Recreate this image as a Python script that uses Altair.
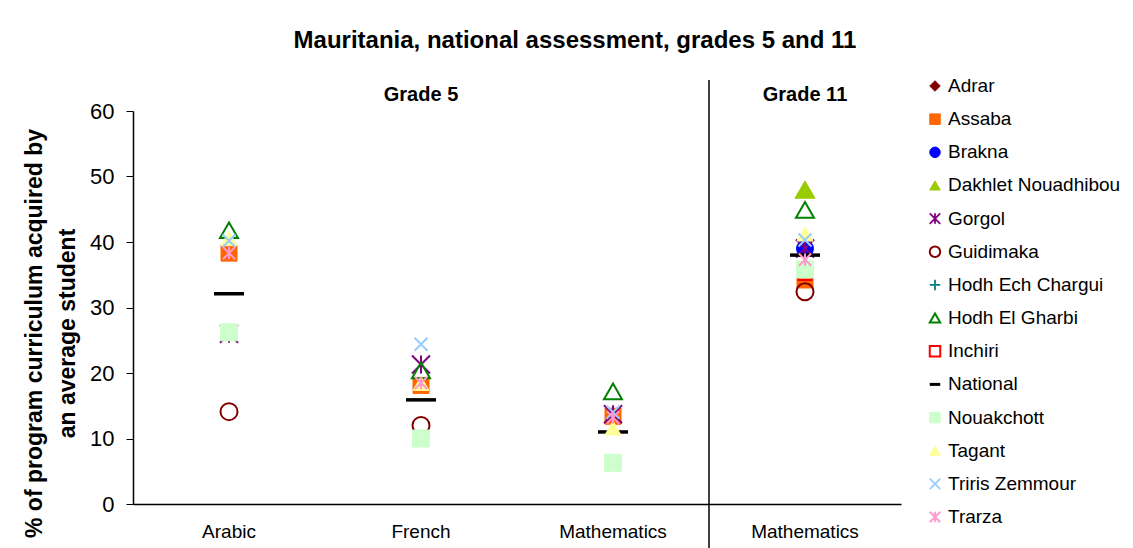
import altair as alt
import pandas as pd

# ---- data ----
regions = ["Adrar", "Assaba", "Brakna", "Dakhlet Nouadhibou", "Gorgol", "Guidimaka",
           "Hodh Ech Chargui", "Hodh El Gharbi", "Inchiri", "National", "Nouakchott",
           "Tagant", "Triris Zemmour", "Trarza"]
categories = ["Arabic", "French", "Math5", "Math11"]
category_labels = ["Arabic", "French", "Mathematics", "Mathematics"]
group_keys = ["French", "Math11"]
group_labels = ["Grade 5", "Grade 11"]

# values per region, in category order (None = not shown)
adrar = [None, None, None, None]
assaba = [38.3, 18.1, 13.4, 34.2]
brakna = [None, None, None, 39.0]
dakhlet = [None, None, None, 48.0]
gorgol = [26.0, 21.3, 13.7, 39.0]
guidimaka = [14.1, 12.0, None, 32.4]
hodh_ech_chargui = [None, None, None, None]
hodh_el_gharbi = [41.8, 20.4, 17.2, 44.9]
inchiri = [None, None, None, 35.2]
national = [32.1, 15.9, 11.0, 38.0]
nouakchott = [26.2, 10.0, 6.3, 35.8]
tagant = [40.5, 18.4, 11.6, 41.2]
triris = [40.2, 24.4, 14.0, 40.3]
trarza = [38.3, 18.5, 13.2, 37.3]

series = [adrar, assaba, brakna, dakhlet, gorgol, guidimaka, hodh_ech_chargui,
          hodh_el_gharbi, inchiri, national, nouakchott, tagant, triris, trarza]

rows = []
for reg, vals in zip(regions, series):
    for cat, v in zip(categories, vals):
        if v is not None:
            rows.append({"region": reg, "key": cat, "value": v})
df = pd.DataFrame(rows)
groups = pd.DataFrame({"key": group_keys, "label": group_labels})
divider = pd.DataFrame({"key": ["Math11"]})
legend_df = pd.DataFrame({"region": regions})

# ---- styles ----
ASTER = "M-1,-1L1,1M1,-1L-1,1M0,-1L0,1"
XS = "M-1,-1L1,1M1,-1L-1,1"
PLUS = "M-1,0L1,0M0,-1L0,1"
DASH = "M-1,0L1,0"
shapes = ["diamond", "square", "circle", "triangle-up", ASTER, "circle", PLUS,
          "triangle-up", "square", DASH, "square", "triangle-up", XS, ASTER]
strokes = ["#800000", "#FF6600", "#0000FF", "#99CC00", "#800080", "#800000", "#008080",
           "#008000", "#FF0000", "#000000", "#CCFFCC", "#FFFF99", "#99CCFF", "#FF99CC"]
fills = ["#800000", "#FF6600", "#0000FF", "#99CC00", "transparent", "transparent",
         "transparent", "transparent", "transparent", "transparent", "#CCFFCC",
         "#FFFF99", "transparent", "transparent"]
sizes = [200, 256, 289, 400, 324, 289, 196, 324, 169, 900, 289, 256, 169, 150]
widths = [1, 1, 1, 1, 2, 2, 2, 2, 2, 3.5, 1, 1, 2, 2]
legend_widths = [1, 1, 1, 1, 1.8, 2, 1.8, 2, 2, 3, 1, 1, 1.8, 1.8]

FONT = "Liberation Sans"
cat_expr = "{'Arabic':'Arabic','French':'French','Math5':'Mathematics','Math11':'Mathematics'}[datum.value]"

shape_enc = alt.Shape("region:N", scale=alt.Scale(domain=regions, range=shapes), legend=None)
stroke_enc = alt.Stroke("region:N", scale=alt.Scale(domain=regions, range=strokes), legend=None)
fill_enc = alt.Fill("region:N", scale=alt.Scale(domain=regions, range=fills), legend=None)

xenc = alt.X("key:N", sort=categories,
             scale=alt.Scale(domain=categories, paddingInner=0, paddingOuter=0),
             axis=alt.Axis(title=None, labelExpr=cat_expr, ticks=False, labelAngle=0,
                           labelFontSize=19, labelPadding=18, labelColor="black",
                           domainColor="black", domainWidth=1.5, grid=False))

points = alt.Chart(df).mark_point(filled=False, opacity=1).encode(
    x=xenc,
    y=alt.Y("value:Q", scale=alt.Scale(domain=[0, 60], nice=False),
            axis=alt.Axis(values=[0, 10, 20, 30, 40, 50, 60], grid=False,
                          title=["% of program curriculum acquired by", "an average student"],
                          titleFont=FONT, titleFontSize=23, titleFontWeight="bold",
                          titleColor="black", titleAngle=270, titleX=-99, titleY=222,
                          titleAlign="center", titleBaseline="middle", titleLineHeight=33,
                          labelFontSize=22, labelPadding=12, labelColor="black",
                          tickSize=7, tickColor="black", domainColor="black",
                          domainWidth=1.5)),
    shape=shape_enc,
    stroke=stroke_enc,
    fill=fill_enc,
    size=alt.Size("region:N", scale=alt.Scale(type="ordinal", domain=regions, range=sizes), legend=None),
    strokeWidth=alt.StrokeWidth("region:N", scale=alt.Scale(type="ordinal", domain=regions, range=widths), legend=None),
)

grade_text = alt.Chart(groups).mark_text(font=FONT, fontSize=20, fontWeight="bold",
                                         color="black", baseline="middle").encode(
    x=alt.X("key:N", sort=categories, scale=alt.Scale(domain=categories)),
    y=alt.value(-16),
    text="label:N",
)

rule = alt.Chart(divider).mark_rule(color="black", strokeWidth=1.5).encode(
    x=alt.X("key:N", bandPosition=0, sort=categories, scale=alt.Scale(domain=categories)),
    y=alt.value(-31),
    y2=alt.value(440),
)

# legend drawn as its own layer (symbols + labels)
leg_y = alt.Y("region:N", sort=regions,
              scale=alt.Scale(type="point", domain=regions, range=[-25, 406], padding=0),
              axis=None)
legend_symbols = alt.Chart(legend_df).mark_point(filled=False, opacity=1, size=110).encode(
    x=alt.value(802),
    y=leg_y,
    shape=shape_enc,
    stroke=stroke_enc,
    fill=fill_enc,
    strokeWidth=alt.StrokeWidth("region:N", scale=alt.Scale(type="ordinal", domain=regions, range=legend_widths), legend=None),
)
legend_labels = alt.Chart(legend_df).mark_text(font=FONT, fontSize=19, color="black",
                                               align="left", baseline="middle").encode(
    x=alt.value(815),
    y=leg_y,
    text="region:N",
)

legend_layer = alt.layer(legend_symbols, legend_labels)

chart = alt.layer(points, rule, grade_text, legend_layer).resolve_scale(
    y="independent", strokeWidth="independent"
).properties(
    width=768, height=393,
    title=alt.TitleParams("Mauritania, national assessment, grades 5 and 11",
                          font=FONT, fontSize=24, fontWeight="bold", color="black",
                          anchor="middle", dx=58, offset=24),
    autosize=alt.AutoSizeParams(type="none"),
    padding={"left": 125, "top": 103, "right": 224, "bottom": 44},
).configure(font=FONT).configure_view(stroke=None).configure_axis(labelFont=FONT)

chart.save("out.html", embed_options={"renderer": "svg", "actions": False})
